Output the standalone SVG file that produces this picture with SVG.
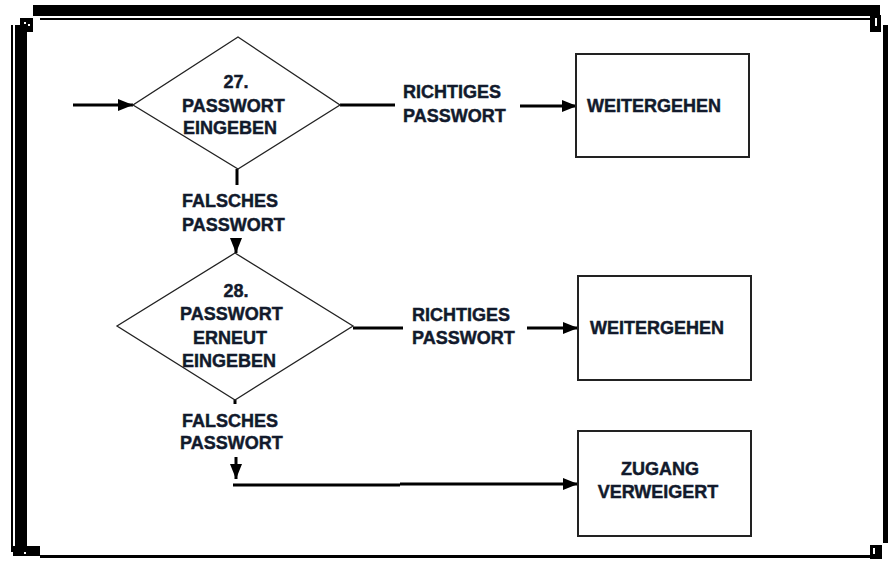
<svg xmlns="http://www.w3.org/2000/svg" width="890" height="562" viewBox="0 0 890 562">
<style>
.t{font-family:"Liberation Sans",Arial,sans-serif;font-weight:bold;font-size:18px;fill:#121a2c;stroke:#121a2c;stroke-width:0.45}
.c{fill:none;stroke:#000;stroke-width:3}
.d{fill:#fff;stroke:#222;stroke-width:1.3}
.b{fill:#fff;stroke:#222;stroke-width:2}
</style>
<defs>
<marker id="ah" markerUnits="userSpaceOnUse" markerWidth="15" markerHeight="12" refX="15" refY="6" orient="auto">
<path d="M0,0 L15,6 L0,12 z" fill="#000"/>
</marker>
</defs>
<rect width="890" height="562" fill="#fff"/>
<g id="frame">
<rect x="33" y="5" width="847" height="11" fill="#000"/>
<rect x="40" y="18" width="832" height="2" fill="#000"/>
<rect x="11" y="25" width="2" height="527" fill="#000"/>
<rect x="15" y="25" width="12" height="524" fill="#000"/>
<rect x="40" y="555" width="830" height="3" fill="#000"/>
<rect x="883" y="25" width="5" height="518" fill="#000"/>
<rect x="20" y="18" width="13" height="14" fill="#000"/>
<rect x="24" y="22" width="2" height="2" fill="#fff"/>
<rect x="28" y="24" width="2" height="2" fill="#fff"/>
<rect x="870" y="15" width="11" height="17" fill="#000"/>
<rect x="875" y="18" width="2" height="8" fill="#fff"/>
<rect x="13" y="546" width="27" height="10" fill="#000"/>
<rect x="24" y="552" width="2" height="2" fill="#fff"/>
<rect x="870" y="545" width="12" height="14" fill="#000"/>
<rect x="873" y="548" width="2" height="6" fill="#fff"/>
</g>
<g id="connectors">
<line class="c" x1="73" y1="105" x2="133" y2="105" marker-end="url(#ah)"/>
<line class="c" x1="340" y1="105" x2="395" y2="105"/>
<line class="c" x1="520" y1="106" x2="577" y2="106" marker-end="url(#ah)"/>
<line class="c" x1="237" y1="169" x2="237" y2="185"/>
<line class="c" x1="236" y1="238" x2="236" y2="253" marker-end="url(#ah)"/>
<line class="c" x1="353" y1="328" x2="403" y2="328"/>
<line class="c" x1="527" y1="328" x2="578" y2="328" marker-end="url(#ah)"/>
<line class="c" x1="235" y1="400" x2="235" y2="404"/>
<line class="c" x1="236" y1="457" x2="236" y2="479" marker-end="url(#ah)"/>
<line class="c" x1="233" y1="485" x2="400" y2="485"/>
<line class="c" x1="400" y1="484" x2="578" y2="484" marker-end="url(#ah)"/>
</g>
<g id="d27">
<polygon class="d" points="238,37 340,105 238,169 133,105"/>
<text class="t" x="236" y="88" text-anchor="middle">27.</text>
<text class="t" x="182" y="112">PASSWORT</text>
<text class="t" x="183" y="134">EINGEBEN</text>
</g>
<g id="l1">
<text class="t" x="403" y="98">RICHTIGES</text>
<text class="t" x="403" y="122">PASSWORT</text>
</g>
<g id="box1">
<rect class="b" x="576" y="54" width="173" height="103"/>
<text class="t" x="587" y="112">WEITERGEHEN</text>
</g>
<g id="l2">
<text class="t" x="182" y="207">FALSCHES</text>
<text class="t" x="182" y="231">PASSWORT</text>
</g>
<g id="d28">
<polygon class="d" points="235,253 353,326 235,400 117,326"/>
<text class="t" x="236" y="297" text-anchor="middle">28.</text>
<text class="t" x="180" y="320">PASSWORT</text>
<text class="t" x="193" y="344">ERNEUT</text>
<text class="t" x="182" y="367">EINGEBEN</text>
</g>
<g id="l3">
<text class="t" x="412" y="321">RICHTIGES</text>
<text class="t" x="412" y="344">PASSWORT</text>
</g>
<g id="box2">
<rect class="b" x="578" y="276" width="173" height="104"/>
<text class="t" x="590" y="334">WEITERGEHEN</text>
</g>
<g id="l4">
<text class="t" x="182" y="427">FALSCHES</text>
<text class="t" x="180" y="449">PASSWORT</text>
</g>
<g id="box3">
<rect class="b" x="578" y="431" width="173" height="105"/>
<text class="t" x="660" y="475" text-anchor="middle">ZUGANG</text>
<text class="t" x="658" y="498" text-anchor="middle">VERWEIGERT</text>
</g>
</svg>
